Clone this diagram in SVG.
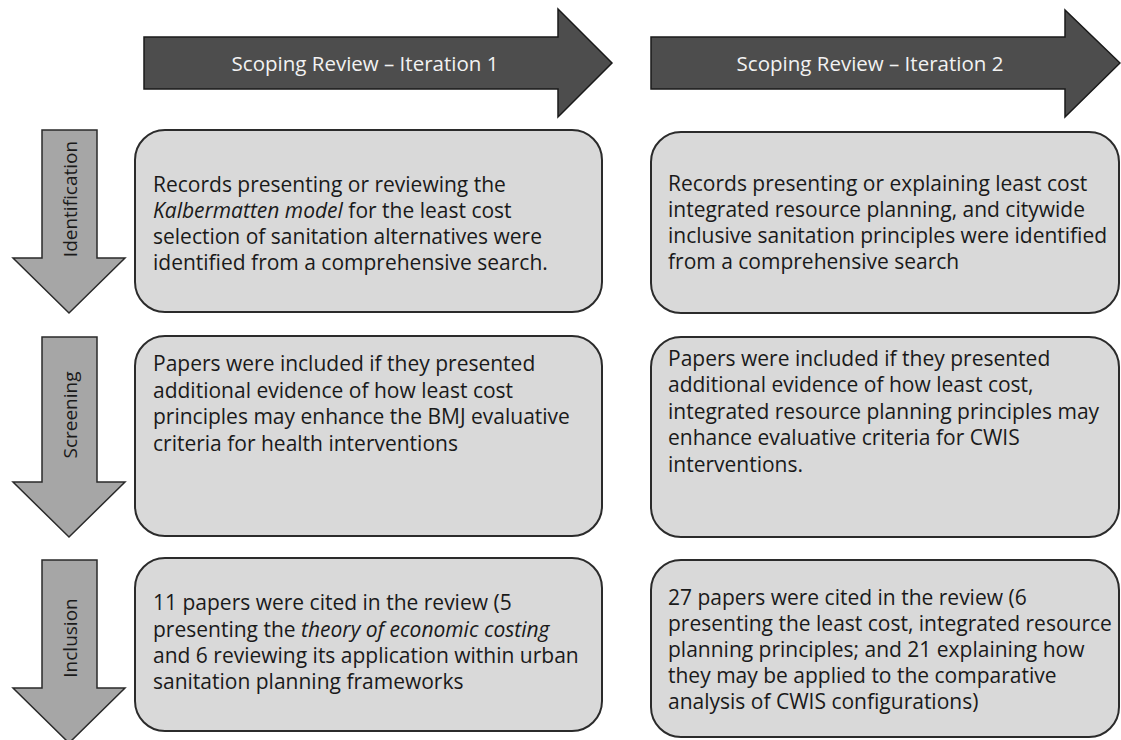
<svg xmlns="http://www.w3.org/2000/svg" width="1121" height="740" viewBox="0 0 1121 740">
<style>
.top{fill:#4d4d4d;stroke:#1a1a1a;stroke-width:1.5}
.side{fill:#a6a6a6;stroke:#2a2a2a;stroke-width:1.5}
.box{fill:#d9d9d9;stroke:#2b2b2b;stroke-width:2}
.tt{font-family:"Open Sans","Noto Sans",sans-serif;font-size:20.5px;fill:#f2f2f2;text-anchor:middle}
.st{font-family:"Open Sans","Noto Sans",sans-serif;font-size:19px;fill:#1a1a1a;text-anchor:middle}
.bt{font-family:"Open Sans","Noto Sans",sans-serif;font-size:21px;fill:#1a1a1a}
</style>
<rect width="1121" height="740" fill="#ffffff"/>
<g id="iter1">
<polygon class="top" points="144,37 558,37 558,9 612,63 558,117 558,89 144,89"/>
<text class="tt" x="365" y="71">Scoping Review – Iteration 1</text>
</g>
<g id="iter2">
<polygon class="top" points="651,37 1065,37 1065,10 1120,63 1065,117 1065,89 651,89"/>
<text class="tt" x="870" y="71">Scoping Review – Iteration 2</text>
</g>
<g id="identification">
<polygon class="side" points="42,130 97,130 97,258 125,258 69,313 13,258 42,258"/>
<text class="st" transform="translate(77,199) rotate(-90)">Identification</text>
</g>
<g id="screening">
<polygon class="side" points="42,337 97,337 97,482 125,482 69,537 13,482 42,482"/>
<text class="st" transform="translate(77,415) rotate(-90)">Screening</text>
</g>
<g id="inclusion">
<polygon class="side" points="42,560 97,560 97,688 125,688 69,743 13,688 42,688"/>
<text class="st" transform="translate(77,638) rotate(-90)">Inclusion</text>
</g>
<g id="box-id-1">
<rect class="box" x="135" y="130" width="467" height="182" rx="30"/>
<text class="bt"><tspan x="153" y="192">Records presenting or reviewing the</tspan><tspan x="153" y="218"><tspan font-style="italic">Kalbermatten model</tspan> for the least cost</tspan><tspan x="153" y="244">selection of sanitation alternatives were</tspan><tspan x="153" y="270">identified from a comprehensive search.</tspan></text>
</g>
<g id="box-id-2">
<rect class="box" x="651" y="132" width="468" height="181" rx="30"/>
<text class="bt"><tspan x="668" y="191">Records presenting or explaining least cost</tspan><tspan x="668" y="217">integrated resource planning, and citywide</tspan><tspan x="668" y="243">inclusive sanitation principles were identified</tspan><tspan x="668" y="269">from a comprehensive search</tspan></text>
</g>
<g id="box-sc-1">
<rect class="box" x="135" y="336" width="467" height="200" rx="30"/>
<text class="bt"><tspan x="153" y="371">Papers were included if they presented</tspan><tspan x="153" y="398">additional evidence of how least cost</tspan><tspan x="153" y="424">principles may enhance the BMJ evaluative</tspan><tspan x="153" y="451">criteria for health interventions</tspan></text>
</g>
<g id="box-sc-2">
<rect class="box" x="651" y="337" width="468" height="200" rx="30"/>
<text class="bt"><tspan x="668" y="366">Papers were included if they presented</tspan><tspan x="668" y="392">additional evidence of how least cost,</tspan><tspan x="668" y="419">integrated resource planning principles may</tspan><tspan x="668" y="445">enhance evaluative criteria for CWIS</tspan><tspan x="668" y="472">interventions.</tspan></text>
</g>
<g id="box-in-1">
<rect class="box" x="135" y="558" width="467" height="173" rx="30"/>
<text class="bt"><tspan x="153" y="610">11 papers were cited in the review (5</tspan><tspan x="153" y="637">presenting the <tspan font-style="italic">theory of economic costing</tspan></tspan><tspan x="153" y="663">and 6 reviewing its application within urban</tspan><tspan x="153" y="689">sanitation planning frameworks</tspan></text>
</g>
<g id="box-in-2">
<rect class="box" x="651" y="560" width="468" height="177" rx="30"/>
<text class="bt"><tspan x="668" y="605">27 papers were cited in the review (6</tspan><tspan x="668" y="631">presenting the least cost, integrated resource</tspan><tspan x="668" y="657">planning principles; and 21 explaining how</tspan><tspan x="668" y="683">they may be applied to the comparative</tspan><tspan x="668" y="709">analysis of CWIS configurations)</tspan></text>
</g>
<g id="connectors"></g>
</svg>
